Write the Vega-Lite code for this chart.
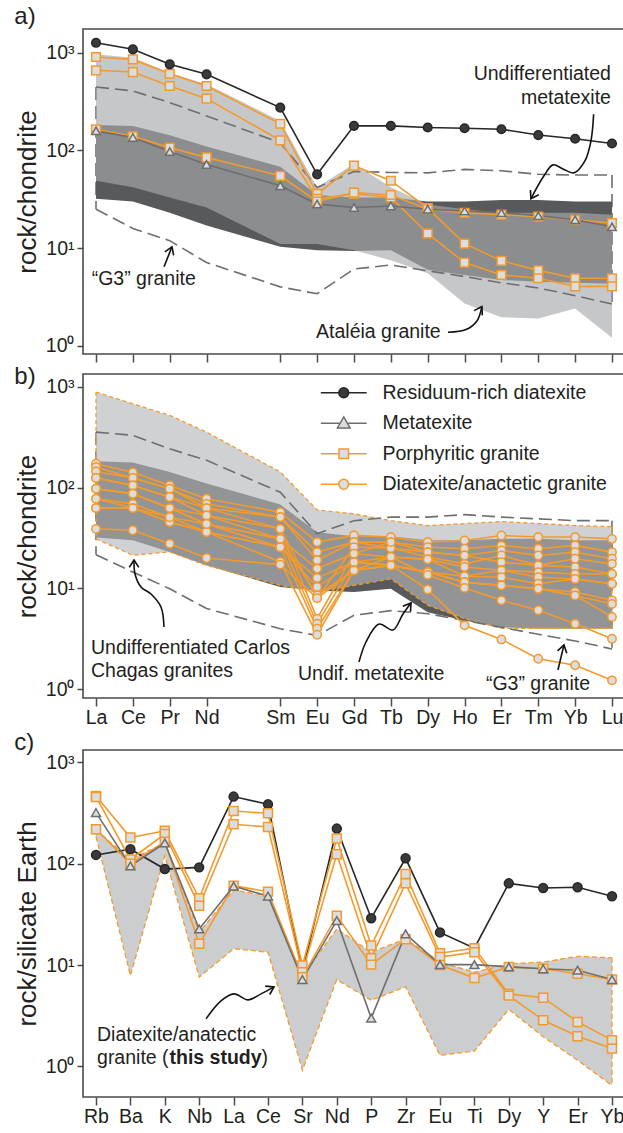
{
"$schema": "https://vega.github.io/schema/vega-lite/v6.json",
"padding": {"left": 13, "top": 4, "right": 0, "bottom": 0},
"spacing": 0,
"config": {
  "font": "Liberation Sans",
  "view": {"stroke": "#4a4a4a", "strokeWidth": 1.6},
  "axis": {"grid": false, "domain": false, "tickColor": "#4a4a4a", "tickWidth": 1.5, "labelFont": "Liberation Sans", "labelFontSize": 19.5, "labelColor": "#231f20", "titleFont": "Liberation Sans", "titleFontWeight": "normal", "titleColor": "#231f20", "labelFlush": false, "labelOverlap": false},
  "title": {"font": "Liberation Sans", "fontSize": 24, "fontWeight": "normal", "color": "#231f20", "anchor": "start", "frame": "bounds", "baseline": "alphabetic"}
},
"datasets": {
  "ree": [{"el":"La","n":57},{"el":"Ce","n":58},{"el":"Pr","n":59},{"el":"Nd","n":60},{"el":"Sm","n":62},{"el":"Eu","n":63},{"el":"Gd","n":64},{"el":"Tb","n":65},{"el":"Dy","n":66},{"el":"Ho","n":67},{"el":"Er","n":68},{"el":"Tm","n":69},{"el":"Yb","n":70},{"el":"Lu","n":71}],
  "spi": [{"el":"Rb","n":0},{"el":"Ba","n":1},{"el":"K","n":2},{"el":"Nb","n":3},{"el":"La","n":4},{"el":"Ce","n":5},{"el":"Sr","n":6},{"el":"Nd","n":7},{"el":"P","n":8},{"el":"Zr","n":9},{"el":"Eu","n":10},{"el":"Ti","n":11},{"el":"Dy","n":12},{"el":"Y","n":13},{"el":"Er","n":14},{"el":"Yb","n":15}],
  "sa": [
    {"id":"p1","grp":"Porphyritic granite","La":908,"Ce":859,"Pr":612,"Nd":458,"Sm":188,"Eu":36,"Gd":70,"Tb":49,"Dy":25.7,"Ho":11.1,"Er":7.4,"Tm":5.9,"Yb":4.9,"Lu":4.9},
    {"id":"p2","grp":"Porphyritic granite","La":664,"Ce":637,"Pr":458,"Nd":340,"Sm":127,"Eu":32,"Gd":36,"Tb":33,"Dy":14.1,"Ho":7.1,"Er":5.3,"Tm":4.9,"Yb":4.05,"Lu":4.05},
    {"id":"p3","grp":"Porphyritic granite","La":165,"Ce":140,"Pr":107,"Nd":85,"Sm":55,"Eu":30,"Gd":37,"Tb":35,"Dy":25,"Ho":23,"Er":22,"Tm":21,"Yb":19.5,"Lu":18},
    {"id":"m1","grp":"Metatexite","La":159,"Ce":136,"Pr":97.5,"Nd":72,"Sm":43.5,"Eu":28.2,"Gd":26,"Tb":27,"Dy":25,"Ho":24,"Er":23,"Tm":21.4,"Yb":19.5,"Lu":16.5},
    {"id":"r1","grp":"Residuum-rich diatexite","La":1271,"Ce":1089,"Pr":764,"Nd":604,"Sm":275,"Eu":57,"Gd":179,"Tb":179,"Dy":172,"Ho":169,"Er":165,"Tm":144,"Yb":132,"Lu":118}
  ],
  "sb": [
    {"id":"d1","grp":"Diatexite/anactetic granite","La":173,"Ce":142,"Pr":105,"Nd":77.6,"Sm":57,"Eu":28.8,"Gd":33.6,"Tb":32.3,"Dy":28.8,"Ho":29.9,"Er":33.5,"Tm":32.3,"Yb":32.3,"Lu":31},
    {"id":"d2","grp":"Diatexite/anactetic granite","La":160,"Ce":125,"Pr":97.5,"Nd":69,"Sm":51,"Eu":22.9,"Gd":28.8,"Tb":28.8,"Dy":25.7,"Ho":24.7,"Er":26.6,"Tm":24.7,"Yb":26.7,"Lu":22.9},
    {"id":"d3","grp":"Diatexite/anactetic granite","La":145,"Ce":125,"Pr":97.5,"Nd":62.7,"Sm":51,"Eu":19,"Gd":28.8,"Tb":25.1,"Dy":22.9,"Ho":21.2,"Er":23.8,"Tm":21.2,"Yb":22.9,"Lu":19.7},
    {"id":"d4","grp":"Diatexite/anactetic granite","La":125,"Ce":105,"Pr":80.8,"Nd":62.7,"Sm":39,"Eu":8.0,"Gd":25.7,"Tb":25.1,"Dy":20.5,"Ho":17.5,"Er":21.2,"Tm":16.9,"Yb":19.7,"Lu":17.5},
    {"id":"d5","grp":"Diatexite/anactetic granite","La":125,"Ce":105,"Pr":80.8,"Nd":53,"Sm":39,"Eu":5.0,"Gd":22.1,"Tb":28.8,"Dy":22.9,"Ho":21.2,"Er":18.2,"Tm":16.9,"Yb":16.3,"Lu":13.9},
    {"id":"d6","grp":"Diatexite/anactetic granite","La":97.5,"Ce":87,"Pr":62.7,"Nd":53,"Sm":31,"Eu":15.7,"Gd":22.1,"Tb":20.5,"Dy":19.4,"Ho":16.3,"Er":15.1,"Tm":14.5,"Yb":13.9,"Lu":13.9},
    {"id":"d7","grp":"Diatexite/anactetic granite","La":97.5,"Ce":87,"Pr":62.7,"Nd":43.6,"Sm":31,"Eu":4.45,"Gd":18.2,"Tb":20.5,"Dy":19.4,"Ho":13.2,"Er":15.1,"Tm":12.9,"Yb":12.4,"Lu":11.1},
    {"id":"d8","grp":"Diatexite/anactetic granite","La":77.6,"Ce":69,"Pr":50.9,"Nd":43.6,"Sm":25.6,"Eu":10.3,"Gd":18.2,"Tb":16.9,"Dy":14.5,"Ho":13.2,"Er":12.9,"Tm":11.1,"Yb":12.4,"Lu":11.1},
    {"id":"d9","grp":"Diatexite/anactetic granite","La":77.6,"Ce":62.7,"Pr":45.5,"Nd":36.3,"Sm":25.6,"Eu":3.97,"Gd":15.1,"Tb":16.9,"Dy":14.5,"Ho":11.5,"Er":10.7,"Tm":9.9,"Yb":9.2,"Lu":7.6},
    {"id":"d10","grp":"Diatexite/anactetic granite","La":62.7,"Ce":62.7,"Pr":45.5,"Nd":36.3,"Sm":18.3,"Eu":3.46,"Gd":15.1,"Tb":16.9,"Dy":14.5,"Ho":11.5,"Er":10.7,"Tm":9.9,"Yb":8.5,"Lu":7.0},
    {"id":"d11","grp":"Diatexite/anactetic granite","La":62.7,"Ce":62.7,"Pr":50.9,"Nd":36.3,"Sm":25.6,"Eu":12.7,"Gd":18.2,"Tb":16.9,"Dy":14.5,"Ho":11.5,"Er":10.7,"Tm":9.9,"Yb":8.5,"Lu":5.2},
    {"id":"d12","grp":"Diatexite/anactetic granite","La":97.5,"Ce":87,"Pr":62.7,"Nd":43.6,"Sm":31,"Eu":8.5,"Gd":15.1,"Tb":20.5,"Dy":13.6,"Ho":10.1,"Er":7.6,"Tm":6.05,"Yb":4.45,"Lu":3.16},
    {"id":"d13","grp":"Diatexite/anactetic granite","La":39,"Ce":37.8,"Pr":27.7,"Nd":20,"Sm":17.2,"Eu":8.0,"Gd":15.1,"Tb":16.9,"Dy":9.75,"Ho":4.29,"Er":3.11,"Tm":2.0,"Yb":1.72,"Lu":1.22}
  ],
  "sc": [
    {"id":"r1","grp":"Residuum-rich diatexite","Rb":122,"Ba":139,"K":88.5,"Nb":92,"La":459,"Ce":385,"Sr":8.5,"Nd":222,"P":29,"Zr":113,"Eu":21,"Ti":14.7,"Dy":64,"Y":57.5,"Er":58.5,"Yb":47.7},
    {"id":"p1","grp":"Porphyritic granite","Rb":465,"Ba":181,"K":211,"Nb":45.6,"La":331,"Ce":314,"Sr":9.9,"Nd":177,"P":15.6,"Zr":79,"Eu":13.1,"Ti":14.7,"Dy":5.2,"Y":4.77,"Er":2.75,"Yb":1.82},
    {"id":"p2","grp":"Porphyritic granite","Rb":455,"Ba":110,"K":196,"Nb":38.5,"La":245,"Ce":230,"Sr":8.5,"Nd":124,"P":11.7,"Zr":64,"Eu":12,"Ti":13.4,"Dy":5.0,"Y":2.86,"Er":1.99,"Yb":1.5},
    {"id":"p3","grp":"Porphyritic granite","Rb":219,"Ba":100,"K":165,"Nb":16.2,"La":60.6,"Ce":53,"Sr":7.6,"Nd":30.7,"P":10.1,"Zr":18,"Eu":10,"Ti":7.45,"Dy":9.6,"Y":9.2,"Er":8.2,"Yb":7.2},
    {"id":"m1","grp":"Metatexite","Rb":319,"Ba":95,"K":160,"Nb":22.7,"La":60,"Ce":48,"Sr":7.2,"Nd":27.5,"P":3.0,"Zr":20.3,"Eu":10.1,"Ti":10.1,"Dy":9.6,"Y":9.2,"Er":8.9,"Yb":7.2}
  ],
  "ba": [
    {"band":"met","side":"v","La":183,"Ce":178,"Pr":143,"Nd":110,"Sm":68,"Eu":35,"Gd":33,"Tb":33,"Dy":30,"Ho":30,"Er":31,"Tm":31,"Yb":30,"Lu":30},
    {"band":"met","side":"lo","La":32,"Ce":30,"Pr":23,"Nd":17,"Sm":10.3,"Eu":9.5,"Gd":9.3,"Tb":9.5,"Dy":6.0,"Ho":5.3,"Er":4.7,"Tm":4.5,"Yb":4.4,"Lu":4.3},
    {"band":"atl","side":"v","La":968,"Ce":893,"Pr":627,"Nd":477,"Sm":201,"Eu":42,"Gd":73,"Tb":42,"Dy":28,"Ho":25,"Er":23,"Tm":23,"Yb":23,"Lu":22},
    {"band":"atl","side":"lo","La":49,"Ce":42,"Pr":33,"Nd":26,"Sm":11,"Eu":11,"Gd":9.5,"Tb":7.5,"Dy":5.5,"Ho":2.7,"Er":1.95,"Tm":1.9,"Yb":2.4,"Lu":1.2},
    {"band":"g3","side":"v","La":448,"Ce":408,"Pr":310,"Nd":226,"Sm":120,"Eu":41.7,"Gd":61,"Tb":59.5,"Dy":59,"Ho":64,"Er":62,"Tm":57,"Yb":56,"Lu":56},
    {"band":"g3","side":"lo","La":25,"Ce":15.9,"Pr":11.9,"Nd":7.1,"Sm":4.0,"Eu":3.4,"Gd":6.1,"Tb":6.7,"Dy":5.85,"Ho":5.1,"Er":4.4,"Tm":3.9,"Yb":3.25,"Lu":2.67}
  ],
  "bb": [
    {"band":"met","side":"v","La":183,"Ce":178,"Pr":143,"Nd":110,"Sm":68,"Eu":36,"Gd":33,"Tb":33,"Dy":30,"Ho":30,"Er":31,"Tm":31,"Yb":30,"Lu":30},
    {"band":"met","side":"lo","La":32,"Ce":30,"Pr":23,"Nd":17,"Sm":10.3,"Eu":9.5,"Gd":9.2,"Tb":9.9,"Dy":5.8,"Ho":4.8,"Er":4.1,"Tm":4.0,"Yb":4.0,"Lu":4.0},
    {"band":"cc","side":"v","La":890,"Ce":681,"Pr":522,"Nd":356,"Sm":143,"Eu":60,"Gd":55,"Tb":47,"Dy":42,"Ho":44,"Er":46,"Tm":44,"Yb":42,"Lu":41},
    {"band":"cc","side":"lo","La":31,"Ce":21.3,"Pr":23,"Nd":16.9,"Sm":10.7,"Eu":9.2,"Gd":10.7,"Tb":12.4,"Dy":6.8,"Ho":5,"Er":4,"Tm":4,"Yb":4,"Lu":4},
    {"band":"g3","side":"v","La":356,"Ce":331,"Pr":243,"Nd":187,"Sm":90,"Eu":34.9,"Gd":47,"Tb":51,"Dy":51,"Ho":54,"Er":51,"Tm":49,"Yb":47,"Lu":47},
    {"band":"g3","side":"lo","La":21.6,"Ce":14.5,"Pr":9.9,"Nd":6.3,"Sm":3.97,"Eu":3.4,"Gd":5.4,"Tb":6.0,"Dy":5.6,"Ho":4.8,"Er":4.1,"Tm":3.5,"Yb":3.0,"Lu":2.5}
  ],
  "bc": [
    {"band":"fld","side":"v","Rb":215,"Ba":110,"K":160,"Nb":21,"La":55,"Ce":48,"Sr":7.9,"Nd":22.7,"P":13.4,"Zr":18.1,"Eu":10.7,"Ti":8.5,"Dy":10.3,"Y":10.7,"Er":12.2,"Yb":11.8},
    {"band":"fld","side":"lo","Rb":185,"Ba":7.9,"K":120,"Nb":7.6,"La":14.5,"Ce":13.4,"Sr":0.92,"Nd":7.2,"P":4.5,"Zr":6.1,"Eu":1.29,"Ti":1.42,"Dy":3.66,"Y":1.96,"Er":1.15,"Yb":0.65}
  ],
  "ar": [
    {"arrow":"a1","i":0,"n":70.502,"v":235},{"arrow":"a1","i":1,"n":70.429,"v":125},{"arrow":"a1","i":2,"n":70.266,"v":78.3},{"arrow":"a1","i":3,"n":69.968,"v":59},{"arrow":"a1","i":4,"n":69.67,"v":64.8},{"arrow":"a1","i":5,"n":69.398,"v":71.2},{"arrow":"a1","i":6,"n":69.154,"v":55},{"arrow":"a1","i":7,"n":68.8,"v":32},
    {"arrow":"a2","i":0,"n":58.845,"v":6.44},{"arrow":"a2","i":1,"n":59.062,"v":10.3},
    {"arrow":"a3","i":0,"n":66.55,"v":1.37},{"arrow":"a3","i":1,"n":67.04,"v":1.46},{"arrow":"a3","i":2,"n":67.34,"v":1.8},{"arrow":"a3","i":3,"n":67.47,"v":2.51},
    {"arrow":"b1","i":0,"n":58.845,"v":4.13},{"arrow":"b1","i":1,"n":58.763,"v":6.52},{"arrow":"b1","i":2,"n":58.492,"v":8.78},{"arrow":"b1","i":3,"n":58.221,"v":10.31},{"arrow":"b1","i":4,"n":58.058,"v":13.88},{"arrow":"b1","i":5,"n":58.031,"v":19.1},
    {"arrow":"b2","i":0,"n":64.135,"v":1.854},{"arrow":"b2","i":1,"n":64.325,"v":2.93},{"arrow":"b2","i":2,"n":64.678,"v":4.42},{"arrow":"b2","i":3,"n":65.057,"v":3.86},{"arrow":"b2","i":4,"n":65.329,"v":5.56},{"arrow":"b2","i":5,"n":65.546,"v":7.15},
    {"arrow":"b3","i":0,"n":69.534,"v":1.545},{"arrow":"b3","i":1,"n":69.697,"v":2.74},
    {"arrow":"c1","i":0,"n":3.198,"v":2.95},{"arrow":"c1","i":1,"n":3.634,"v":4.44},{"arrow":"c1","i":2,"n":4.012,"v":5.2},{"arrow":"c1","i":3,"n":4.419,"v":4.54},{"arrow":"c1","i":4,"n":4.797,"v":5.2},{"arrow":"c1","i":5,"n":5.174,"v":6.1}
  ],
  "tx": [
    {"p":"a","t":"Undifferentiated","n":70.972,"v":612},
    {"p":"a","t":"metatexite","n":70.972,"v":348},
    {"p":"a","t":"“G3” granite","n":56.883,"v":4.82},
    {"p":"a","t":"Ataléia granite","n":62.97,"v":1.37},
    {"p":"b","t":"Undifferentiated Carlos","n":56.864,"v":2.55},
    {"p":"b","t":"Chagas granites","n":56.864,"v":1.5},
    {"p":"b","t":"Undif. metatexite","n":62.48,"v":1.42},
    {"p":"b","t":"“G3” granite","n":67.58,"v":1.13},
    {"p":"c","t":"Diatexite/anatectic","n":0.03,"v":2.03},
    {"p":"c","t":"granite (","n":0.03,"v":1.2},
    {"p":"c","t":")","n":4.814,"v":1.2},
    {"p":"c","t":"this study","n":2.137,"v":1.2}
  ]
},
"resolve": {"scale": {"shape": "independent", "stroke": "independent", "fill": "independent"}, "legend": {"shape": "independent", "stroke": "independent", "fill": "independent"}},
"vconcat": [
{
  "width": 541, "height": 325,
  "title": {"text": "a)", "offset": 0},
  "encoding": {
    "x": {"field": "n", "type": "quantitative", "scale": {"domain": [56.647, 71.326], "nice": false, "zero": false}, "axis": {"values": [57,58,59,60,62,63,64,65,66,67,68,69,70,71], "labels": false, "tickSize": 8, "title": null}},
    "y": {"field": "v", "type": "quantitative", "scale": {"type": "log", "domain": [0.82, 1760], "nice": false}, "axis": {"values": [1,10,100,1000], "labelExpr": "datum.value == 1 ? '10⁰' : datum.value == 10 ? '10¹' : datum.value == 100 ? '10²' : '10³'", "tickSize": 6, "labelPadding": 3, "title": "rock/chondrite", "titleFontSize": 26, "titlePadding": 5}}
  },
  "layer": [
    {"data": {"name": "ba"}, "transform": [{"filter": "datum.band == 'g3'"}, {"fold": ["La","Ce","Pr","Nd","Sm","Eu","Gd","Tb","Dy","Ho","Er","Tm","Yb","Lu"], "as": ["el","val"]}, {"pivot": "side", "value": "val", "groupby": ["band","el"]}, {"filter": "datum.el == 'La' || datum.el == 'Lu'"}, {"lookup": "el", "from": {"data": {"name": "ree"}, "key": "el", "fields": ["n"]}}],
     "mark": {"type": "rule", "stroke": "#6d6e71", "strokeWidth": 1.6, "strokeDash": [13,6]}, "encoding": {"y2": {"field": "lo"}}},
    {"data": {"name": "ba"}, "transform": [{"filter": "datum.band == 'met'"}, {"fold": ["La","Ce","Pr","Nd","Sm","Eu","Gd","Tb","Dy","Ho","Er","Tm","Yb","Lu"], "as": ["el","val"]}, {"pivot": "side", "value": "val", "groupby": ["band","el"]}, {"lookup": "el", "from": {"data": {"name": "ree"}, "key": "el", "fields": ["n"]}}],
     "mark": {"type": "area", "color": "#58595b"}, "encoding": {"y2": {"field": "lo"}}},
    {"data": {"name": "ba"}, "transform": [{"filter": "datum.band == 'atl'"}, {"fold": ["La","Ce","Pr","Nd","Sm","Eu","Gd","Tb","Dy","Ho","Er","Tm","Yb","Lu"], "as": ["el","val"]}, {"pivot": "side", "value": "val", "groupby": ["band","el"]}, {"lookup": "el", "from": {"data": {"name": "ree"}, "key": "el", "fields": ["n"]}}],
     "mark": {"type": "area", "color": "#a7a9ab", "opacity": 0.65}, "encoding": {"y2": {"field": "lo"}}},
    {"data": {"name": "ba"}, "transform": [{"filter": "datum.band == 'g3'"}, {"fold": ["La","Ce","Pr","Nd","Sm","Eu","Gd","Tb","Dy","Ho","Er","Tm","Yb","Lu"], "as": ["el","v"]}, {"lookup": "el", "from": {"data": {"name": "ree"}, "key": "el", "fields": ["n"]}}],
     "mark": {"type": "line", "stroke": "#6d6e71", "strokeWidth": 1.6, "strokeDash": [13,6]}, "encoding": {"detail": {"field": "side"}}},
    {"data": {"name": "sa"}, "transform": [{"fold": ["La","Ce","Pr","Nd","Sm","Eu","Gd","Tb","Dy","Ho","Er","Tm","Yb","Lu"], "as": ["el","v"]}, {"lookup": "el", "from": {"data": {"name": "ree"}, "key": "el", "fields": ["n"]}}],
     "mark": {"type": "line", "strokeWidth": 1.6},
     "encoding": {"detail": {"field": "id"}, "stroke": {"field": "grp", "type": "nominal", "scale": {"domain": ["Residuum-rich diatexite","Metatexite","Porphyritic granite","Diatexite/anactetic granite"], "range": ["#262626","#6d6e71","#f49a2c","#f49a2c"]}, "legend": null}}},
    {"data": {"name": "sa"}, "transform": [{"fold": ["La","Ce","Pr","Nd","Sm","Eu","Gd","Tb","Dy","Ho","Er","Tm","Yb","Lu"], "as": ["el","v"]}, {"lookup": "el", "from": {"data": {"name": "ree"}, "key": "el", "fields": ["n"]}}],
     "mark": {"type": "point", "size": 75, "strokeWidth": 1.5, "opacity": 1},
     "encoding": {
       "shape": {"field": "grp", "type": "nominal", "scale": {"domain": ["Residuum-rich diatexite","Metatexite","Porphyritic granite","Diatexite/anactetic granite"], "range": ["circle","triangle-up","square","circle"]}, "legend": null},
       "stroke": {"field": "grp", "type": "nominal", "legend": null},
       "fill": {"field": "grp", "type": "nominal", "scale": {"domain": ["Residuum-rich diatexite","Metatexite","Porphyritic granite","Diatexite/anactetic granite"], "range": ["#3a3a3a","#dcdddf","#dcdddf","#dcdddf"]}, "legend": null}}},
    {"data": {"name": "tx"}, "transform": [{"filter": "datum.p == 'a' && datum.t != 'Undifferentiated' && datum.t != 'metatexite'"}],
     "mark": {"type": "text", "align": "left", "baseline": "middle", "fontSize": 19.5, "color": "#231f20"}, "encoding": {"text": {"field": "t"}}},
    {"data": {"name": "tx"}, "transform": [{"filter": "datum.p == 'a' && (datum.t == 'Undifferentiated' || datum.t == 'metatexite')"}],
     "mark": {"type": "text", "align": "right", "baseline": "middle", "fontSize": 19.5, "color": "#231f20"}, "encoding": {"text": {"field": "t"}}},
    {"data": {"name": "ar"}, "transform": [{"filter": "datum.arrow == 'a1' || datum.arrow == 'a2' || datum.arrow == 'a3'"}],
     "mark": {"type": "line", "stroke": "#111111", "strokeWidth": 1.6, "interpolate": "catmull-rom"}, "encoding": {"detail": {"field": "arrow"}, "order": {"field": "i"}}},
    {"data": {"name": "ar"}, "transform": [{"filter": "datum.arrow == 'a1' && datum.i == 7"}],
     "mark": {"type": "point", "shape": "M-0.55,0.85L0,0L0.55,0.85", "size": 300, "angle": 210, "filled": false, "stroke": "#111111", "strokeWidth": 1.6, "opacity": 1}},
    {"data": {"name": "ar"}, "transform": [{"filter": "datum.arrow == 'a2' && datum.i == 1"}],
     "mark": {"type": "point", "shape": "M-0.55,0.85L0,0L0.55,0.85", "size": 300, "angle": 22, "filled": false, "stroke": "#111111", "strokeWidth": 1.6, "opacity": 1}},
    {"data": {"name": "ar"}, "transform": [{"filter": "datum.arrow == 'a3' && datum.i == 3"}],
     "mark": {"type": "point", "shape": "M-0.55,0.85L0,0L0.55,0.85", "size": 300, "angle": 30, "filled": false, "stroke": "#111111", "strokeWidth": 1.6, "opacity": 1}}
  ]
},
{
  "width": 541, "height": 324,
  "title": {"text": "b)", "offset": -15},
  "resolve": {"scale": {"shape": "independent", "stroke": "independent", "fill": "independent"}, "legend": {"shape": "independent", "stroke": "independent", "fill": "independent"}},
  "encoding": {
    "x": {"field": "n", "type": "quantitative", "scale": {"domain": [56.647, 71.326], "nice": false, "zero": false}, "axis": {"values": [57,58,59,60,62,63,64,65,66,67,68,69,70,71], "labelExpr": "['La','Ce','Pr','Nd','Pm','Sm','Eu','Gd','Tb','Dy','Ho','Er','Tm','Yb','Lu'][datum.value - 57]", "tickSize": 8, "labelPadding": 2, "minExtent": 30, "title": null}},
    "y": {"field": "v", "type": "quantitative", "scale": {"type": "log", "domain": [0.814, 1346], "nice": false}, "axis": {"values": [1,10,100,1000], "labelExpr": "datum.value == 1 ? '10⁰' : datum.value == 10 ? '10¹' : datum.value == 100 ? '10²' : '10³'", "tickSize": 6, "labelPadding": 3, "title": "rock/chondrite", "titleFontSize": 26, "titlePadding": 5}}
  },
  "layer": [
    {"data": {"name": "bb"}, "transform": [{"filter": "datum.band == 'g3'"}, {"fold": ["La","Ce","Pr","Nd","Sm","Eu","Gd","Tb","Dy","Ho","Er","Tm","Yb","Lu"], "as": ["el","val"]}, {"pivot": "side", "value": "val", "groupby": ["band","el"]}, {"filter": "datum.el == 'La' || datum.el == 'Lu'"}, {"lookup": "el", "from": {"data": {"name": "ree"}, "key": "el", "fields": ["n"]}}],
     "mark": {"type": "rule", "stroke": "#6d6e71", "strokeWidth": 1.6, "strokeDash": [13,6]}, "encoding": {"y2": {"field": "lo"}}},
    {"data": {"name": "bb"}, "transform": [{"filter": "datum.band == 'met'"}, {"fold": ["La","Ce","Pr","Nd","Sm","Eu","Gd","Tb","Dy","Ho","Er","Tm","Yb","Lu"], "as": ["el","val"]}, {"pivot": "side", "value": "val", "groupby": ["band","el"]}, {"lookup": "el", "from": {"data": {"name": "ree"}, "key": "el", "fields": ["n"]}}],
     "mark": {"type": "area", "color": "#58595b"}, "encoding": {"y2": {"field": "lo"}}},
    {"data": {"name": "bb"}, "transform": [{"filter": "datum.band == 'cc'"}, {"fold": ["La","Ce","Pr","Nd","Sm","Eu","Gd","Tb","Dy","Ho","Er","Tm","Yb","Lu"], "as": ["el","val"]}, {"pivot": "side", "value": "val", "groupby": ["band","el"]}, {"lookup": "el", "from": {"data": {"name": "ree"}, "key": "el", "fields": ["n"]}}],
     "mark": {"type": "area", "color": "#b4b6b8", "opacity": 0.63}, "encoding": {"y2": {"field": "lo"}}},
    {"data": {"name": "bb"}, "transform": [{"filter": "datum.band == 'cc'"}, {"fold": ["La","Ce","Pr","Nd","Sm","Eu","Gd","Tb","Dy","Ho","Er","Tm","Yb","Lu"], "as": ["el","val"]}, {"pivot": "side", "value": "val", "groupby": ["band","el"]}, {"filter": "datum.el == 'La' || datum.el == 'Lu'"}, {"lookup": "el", "from": {"data": {"name": "ree"}, "key": "el", "fields": ["n"]}}],
     "mark": {"type": "rule", "stroke": "#f49a2c", "strokeWidth": 1.3, "strokeDash": [4,3]}, "encoding": {"y2": {"field": "lo"}}},
    {"data": {"name": "bb"}, "transform": [{"filter": "datum.band == 'cc'"}, {"fold": ["La","Ce","Pr","Nd","Sm","Eu","Gd","Tb","Dy","Ho","Er","Tm","Yb","Lu"], "as": ["el","v"]}, {"lookup": "el", "from": {"data": {"name": "ree"}, "key": "el", "fields": ["n"]}}],
     "mark": {"type": "line", "stroke": "#f49a2c", "strokeWidth": 1.3, "strokeDash": [4,3]}, "encoding": {"detail": {"field": "side"}}},
    {"data": {"name": "bb"}, "transform": [{"filter": "datum.band == 'g3'"}, {"fold": ["La","Ce","Pr","Nd","Sm","Eu","Gd","Tb","Dy","Ho","Er","Tm","Yb","Lu"], "as": ["el","v"]}, {"lookup": "el", "from": {"data": {"name": "ree"}, "key": "el", "fields": ["n"]}}],
     "mark": {"type": "line", "stroke": "#6d6e71", "strokeWidth": 1.6, "strokeDash": [13,6]}, "encoding": {"detail": {"field": "side"}}},
    {"data": {"name": "sb"}, "transform": [{"fold": ["La","Ce","Pr","Nd","Sm","Eu","Gd","Tb","Dy","Ho","Er","Tm","Yb","Lu"], "as": ["el","v"]}, {"lookup": "el", "from": {"data": {"name": "ree"}, "key": "el", "fields": ["n"]}}],
     "mark": {"type": "line", "strokeWidth": 1.6},
     "encoding": {"detail": {"field": "id"}, "stroke": {"field": "grp", "type": "nominal", "scale": {"domain": ["Residuum-rich diatexite","Metatexite","Porphyritic granite","Diatexite/anactetic granite"], "range": ["#262626","#6d6e71","#f49a2c","#f49a2c"]}, "legend": null}}},
    {"data": {"name": "sb"}, "transform": [{"fold": ["La","Ce","Pr","Nd","Sm","Eu","Gd","Tb","Dy","Ho","Er","Tm","Yb","Lu"], "as": ["el","v"]}, {"lookup": "el", "from": {"data": {"name": "ree"}, "key": "el", "fields": ["n"]}}],
     "mark": {"type": "point", "size": 70, "strokeWidth": 1.5, "opacity": 1},
     "encoding": {
       "shape": {"field": "grp", "type": "nominal", "scale": {"domain": ["Residuum-rich diatexite","Metatexite","Porphyritic granite","Diatexite/anactetic granite"], "range": ["circle","triangle-up","square","circle"]}, "legend": null},
       "stroke": {"field": "grp", "type": "nominal", "scale": {"domain": ["Residuum-rich diatexite","Metatexite","Porphyritic granite","Diatexite/anactetic granite"], "range": ["#262626","#6d6e71","#f49a2c","#f49a2c"]}, "legend": null},
       "fill": {"field": "grp", "type": "nominal", "scale": {"domain": ["Residuum-rich diatexite","Metatexite","Porphyritic granite","Diatexite/anactetic granite"], "range": ["#3a3a3a","#dcdddf","#dcdddf","#dcdddf"]}, "legend": null}}},
    {"data": {"name": "sb"}, "transform": [{"filter": "false"}],
     "mark": {"type": "point", "size": 250, "strokeWidth": 1.5, "opacity": 1},
     "encoding": {
       "shape": {"field": "grp", "type": "nominal", "scale": {"domain": ["Residuum-rich diatexite","Metatexite","Porphyritic granite","Diatexite/anactetic granite"], "range": ["M-2.9,0H-0.62M0.62,0H2.9M0.62,0A0.62,0.62,0,1,1,-0.62,0A0.62,0.62,0,1,1,0.62,0Z","M-2.9,0H-0.46M0.46,0H2.9M0,-0.8L0.8,0.6L-0.8,0.6Z","M-2.9,0H-0.6M0.6,0H2.9M-0.6,-0.6H0.6V0.6H-0.6Z","M-2.9,0H-0.62M0.62,0H2.9M0.62,0A0.62,0.62,0,1,1,-0.62,0A0.62,0.62,0,1,1,0.62,0Z"]},
         "legend": {"orient": "none", "legendX": 251, "legendY": 9, "title": null, "labelFont": "Liberation Sans", "labelFontSize": 19.5, "labelColor": "#231f20", "labelLimit": 400, "symbolSize": 250, "symbolStrokeWidth": 1.5, "symbolOpacity": 1, "labelOffset": 29, "rowPadding": 9.5, "padding": 0}},
       "stroke": {"field": "grp", "type": "nominal", "scale": {"domain": ["Residuum-rich diatexite","Metatexite","Porphyritic granite","Diatexite/anactetic granite"], "range": ["#262626","#6d6e71","#f49a2c","#f49a2c"]}},
       "fill": {"field": "grp", "type": "nominal", "scale": {"domain": ["Residuum-rich diatexite","Metatexite","Porphyritic granite","Diatexite/anactetic granite"], "range": ["#3a3a3a","#dcdddf","#dcdddf","#dcdddf"]}}}},
    {"data": {"name": "tx"}, "transform": [{"filter": "datum.p == 'b'"}],
     "mark": {"type": "text", "align": "left", "baseline": "middle", "fontSize": 19.5, "color": "#231f20"}, "encoding": {"text": {"field": "t"}}},
    {"data": {"name": "ar"}, "transform": [{"filter": "datum.arrow == 'b1' || datum.arrow == 'b2' || datum.arrow == 'b3'"}],
     "mark": {"type": "line", "stroke": "#111111", "strokeWidth": 1.6, "interpolate": "catmull-rom"}, "encoding": {"detail": {"field": "arrow"}, "order": {"field": "i"}}},
    {"data": {"name": "ar"}, "transform": [{"filter": "datum.arrow == 'b1' && datum.i == 5"}],
     "mark": {"type": "point", "shape": "M-0.55,0.85L0,0L0.55,0.85", "size": 300, "angle": 0, "filled": false, "stroke": "#111111", "strokeWidth": 1.6, "opacity": 1}},
    {"data": {"name": "ar"}, "transform": [{"filter": "datum.arrow == 'b2' && datum.i == 5"}],
     "mark": {"type": "point", "shape": "M-0.55,0.85L0,0L0.55,0.85", "size": 300, "angle": 36, "filled": false, "stroke": "#111111", "strokeWidth": 1.6, "opacity": 1}},
    {"data": {"name": "ar"}, "transform": [{"filter": "datum.arrow == 'b3' && datum.i == 1"}],
     "mark": {"type": "point", "shape": "M-0.55,0.85L0,0L0.55,0.85", "size": 300, "angle": 14, "filled": false, "stroke": "#111111", "strokeWidth": 1.6, "opacity": 1}}
  ]
},
{
  "width": 541, "height": 347,
  "title": {"text": "c)", "offset": -4.5},
  "encoding": {
    "x": {"field": "n", "type": "quantitative", "scale": {"domain": [-0.378, 15.349], "nice": false, "zero": false}, "axis": {"values": [0,1,2,3,4,5,6,7,8,9,10,11,12,13,14,15], "labelExpr": "['Rb','Ba','K','Nb','La','Ce','Sr','Nd','P','Zr','Eu','Ti','Dy','Y','Er','Yb'][datum.value]", "tickSize": 8, "labelPadding": 2, "title": null}},
    "y": {"field": "v", "type": "quantitative", "scale": {"type": "log", "domain": [0.5, 1322], "nice": false}, "axis": {"values": [1,10,100,1000], "labelExpr": "datum.value == 1 ? '10⁰' : datum.value == 10 ? '10¹' : datum.value == 100 ? '10²' : '10³'", "tickSize": 6, "labelPadding": 3, "title": "rock/silicate Earth", "titleFontSize": 26, "titlePadding": 5}}
  },
  "layer": [
    {"data": {"name": "bc"}, "transform": [{"fold": ["Rb","Ba","K","Nb","La","Ce","Sr","Nd","P","Zr","Eu","Ti","Dy","Y","Er","Yb"], "as": ["el","val"]}, {"pivot": "side", "value": "val", "groupby": ["band","el"]}, {"lookup": "el", "from": {"data": {"name": "spi"}, "key": "el", "fields": ["n"]}}],
     "mark": {"type": "area", "color": "#cbcdcf"}, "encoding": {"y2": {"field": "lo"}}},
    {"data": {"name": "bc"}, "transform": [{"fold": ["Rb","Ba","K","Nb","La","Ce","Sr","Nd","P","Zr","Eu","Ti","Dy","Y","Er","Yb"], "as": ["el","val"]}, {"pivot": "side", "value": "val", "groupby": ["band","el"]}, {"filter": "datum.el == 'Rb' || datum.el == 'Yb'"}, {"lookup": "el", "from": {"data": {"name": "spi"}, "key": "el", "fields": ["n"]}}],
     "mark": {"type": "rule", "stroke": "#f49a2c", "strokeWidth": 1.3, "strokeDash": [5,3]}, "encoding": {"y2": {"field": "lo"}}},
    {"data": {"name": "bc"}, "transform": [{"fold": ["Rb","Ba","K","Nb","La","Ce","Sr","Nd","P","Zr","Eu","Ti","Dy","Y","Er","Yb"], "as": ["el","v"]}, {"lookup": "el", "from": {"data": {"name": "spi"}, "key": "el", "fields": ["n"]}}],
     "mark": {"type": "line", "stroke": "#f49a2c", "strokeWidth": 1.3, "strokeDash": [5,3]}, "encoding": {"detail": {"field": "side"}}},
    {"data": {"name": "sc"}, "transform": [{"fold": ["Rb","Ba","K","Nb","La","Ce","Sr","Nd","P","Zr","Eu","Ti","Dy","Y","Er","Yb"], "as": ["el","v"]}, {"lookup": "el", "from": {"data": {"name": "spi"}, "key": "el", "fields": ["n"]}}],
     "mark": {"type": "line", "strokeWidth": 1.6},
     "encoding": {"detail": {"field": "id"}, "stroke": {"field": "grp", "type": "nominal", "scale": {"domain": ["Residuum-rich diatexite","Metatexite","Porphyritic granite","Diatexite/anactetic granite"], "range": ["#262626","#6d6e71","#f49a2c","#f49a2c"]}, "legend": null}}},
    {"data": {"name": "sc"}, "transform": [{"fold": ["Rb","Ba","K","Nb","La","Ce","Sr","Nd","P","Zr","Eu","Ti","Dy","Y","Er","Yb"], "as": ["el","v"]}, {"lookup": "el", "from": {"data": {"name": "spi"}, "key": "el", "fields": ["n"]}}],
     "mark": {"type": "point", "size": 80, "strokeWidth": 1.5, "opacity": 1},
     "encoding": {
       "shape": {"field": "grp", "type": "nominal", "scale": {"domain": ["Residuum-rich diatexite","Metatexite","Porphyritic granite","Diatexite/anactetic granite"], "range": ["circle","triangle-up","square","circle"]}, "legend": null},
       "stroke": {"field": "grp", "type": "nominal", "legend": null},
       "fill": {"field": "grp", "type": "nominal", "scale": {"domain": ["Residuum-rich diatexite","Metatexite","Porphyritic granite","Diatexite/anactetic granite"], "range": ["#3a3a3a","#dcdddf","#dcdddf","#dcdddf"]}, "legend": null}}},
    {"data": {"name": "tx"}, "transform": [{"filter": "datum.p == 'c' && datum.t != 'this study'"}],
     "mark": {"type": "text", "align": "left", "baseline": "middle", "fontSize": 19.5, "color": "#231f20"}, "encoding": {"text": {"field": "t"}}},
    {"data": {"name": "tx"}, "transform": [{"filter": "datum.t == 'this study'"}],
     "mark": {"type": "text", "align": "left", "baseline": "middle", "fontSize": 19.5, "fontWeight": "bold", "color": "#231f20"}, "encoding": {"text": {"field": "t"}}},
    {"data": {"name": "ar"}, "transform": [{"filter": "datum.arrow == 'c1'"}],
     "mark": {"type": "line", "stroke": "#111111", "strokeWidth": 1.6, "interpolate": "catmull-rom"}, "encoding": {"detail": {"field": "arrow"}, "order": {"field": "i"}}},
    {"data": {"name": "ar"}, "transform": [{"filter": "datum.arrow == 'c1' && datum.i == 5"}],
     "mark": {"type": "point", "shape": "M-0.55,0.85L0,0L0.55,0.85", "size": 300, "angle": 62, "filled": false, "stroke": "#111111", "strokeWidth": 1.6, "opacity": 1}}
  ]
}
]
}
